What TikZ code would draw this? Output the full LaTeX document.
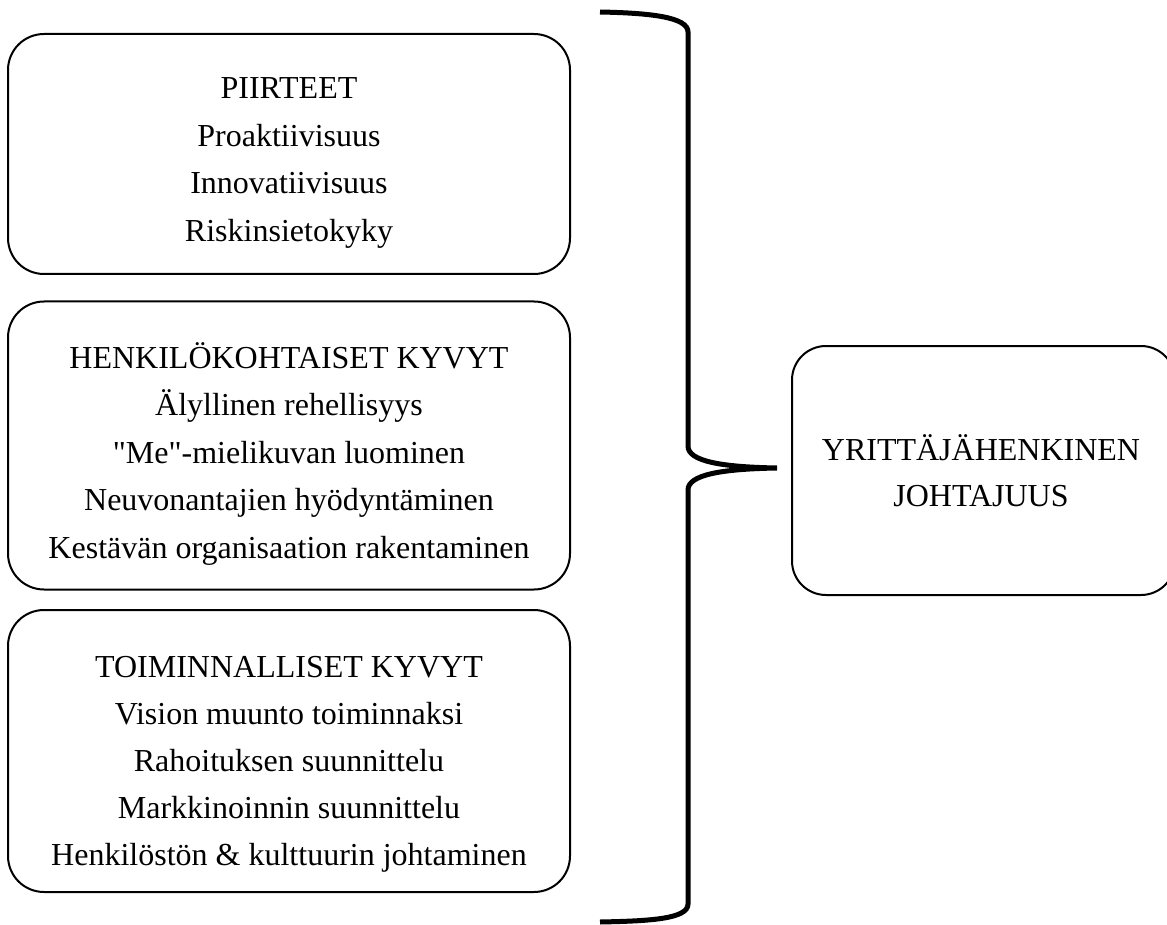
\documentclass[tikz,border=0pt]{standalone}
\usepackage{fontspec}
\setmainfont{Liberation Serif}[Ligatures=TeXOff]
\begin{document}
\begin{tikzpicture}[x=1pt,y=-1pt,
  box/.style={draw, line width=2pt, rounded corners=36pt, inner sep=0pt},
  txt/.style={anchor=base, inner sep=0pt, font=\fontsize{32}{40}\selectfont},
  brace/.style={draw, line width=5pt}]
\useasboundingbox (0,0) rectangle (1167,925);

% left column: the three groups of qualities
\node[box, minimum width=562pt, minimum height=240pt] (traits) at (289,154) {};
\node[box, minimum width=562pt, minimum height=288pt] (personal) at (289,445.5) {};
\node[box, minimum width=562pt, minimum height=282pt] (functional) at (289,751) {};

\foreach \t [count=\i from 0] in {PIIRTEET, Proaktiivisuus, Innovatiivisuus, Riskinsietokyky}
  \node[txt] (traits-\i) at (289,{99+47.5*\i}) {\t};
\foreach \t [count=\i from 0] in {HENKILÖKOHTAISET KYVYT, Älyllinen rehellisyys,
    "Me"-mielikuvan luominen, Neuvonantajien hyödyntäminen,
    Kestävän organisaation rakentaminen}
  \node[txt] (personal-\i) at (289,{368+47.6*\i}) {\t};
\foreach \t [count=\i from 0] in {TOIMINNALLISET KYVYT, Vision muunto toiminnaksi,
    Rahoituksen suunnittelu, Markkinoinnin suunnittelu,
    Henkilöstön \& kulttuurin johtaminen}
  \node[txt] (functional-\i) at (289,{677+47*\i}) {\t};

% result box on the right
\node[box, rounded corners=34pt, minimum width=383pt, minimum height=249pt] (leader) at (983.5,470.5) {};
\node[txt] (leader-0) at (981,460) {YRITTÄJÄHENKINEN};
\node[txt] (leader-1) at (981,506) {JOHTAJUUS};

% curly brace gathering the three groups
\coordinate (btop) at (600,12);
\coordinate (bbot) at (600,922);
\coordinate (tip) at (777,468);
\path[brace] (btop) .. controls (650,13) and (688,17) .. (688,32)
  -- (688,446) .. controls (688,461) and (720,467) .. (tip)
  .. controls (720,469) and (688,475) .. (688,490)
  -- (688,904) .. controls (688,919) and (650,921) .. (bbot);
\end{tikzpicture}
\end{document}
